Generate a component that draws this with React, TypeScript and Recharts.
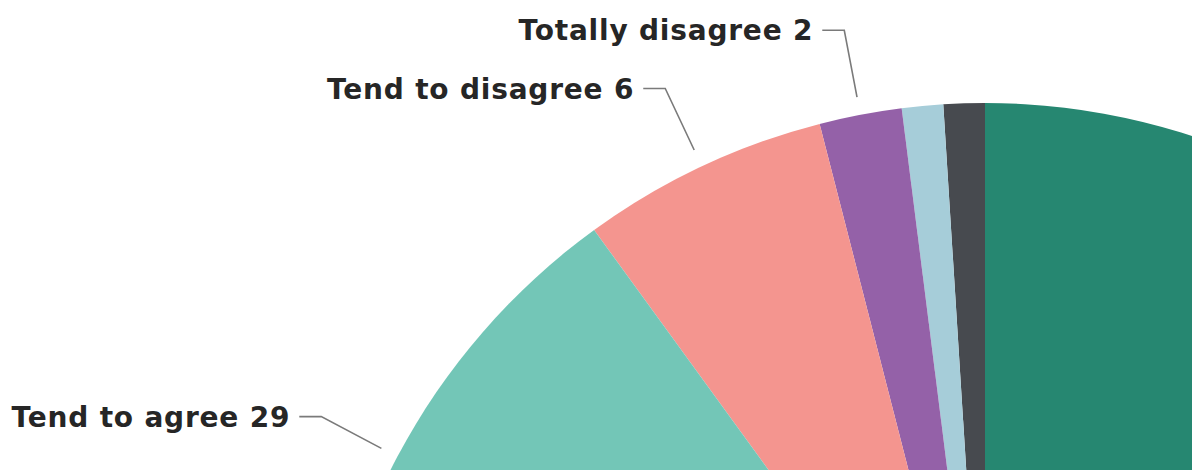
import React from "react";
import { PieChart, Pie, Cell } from "recharts";

// Categories in drawing order, counter-clockwise from 12 o'clock
const categories = [
  "Don't know",
  "Other",
  "Totally disagree",
  "Tend to disagree",
  "Tend to agree",
  "Totally agree",
];
const values = [1, 1, 2, 6, 29, 61];
const colors = ["#474a4f", "#a6cdd9", "#9461a8", "#f4958f", "#73c6b7", "#268771"];
// which slices carry a visible callout, and where along the slice it sits (0..1)
const showLabel = [false, false, true, true, true, false];
const labelFraction = [0.5, 0.5, 0.5, 0.5, 0.25, 0.5];

const data = categories.map((name, i) => ({ name, value: values[i] }));

const RAD = Math.PI / 180;
const FONT = 28;

const renderLabel = (props: any) => {
  const { cx, cy, outerRadius, startAngle, endAngle, midAngle, index } = props;
  if (!showLabel[index]) return null;
  const a =
    startAngle !== undefined && endAngle !== undefined
      ? startAngle + (endAngle - startAngle) * labelFraction[index]
      : midAngle;
  const cos = Math.cos(-a * RAD);
  const sin = Math.sin(-a * RAD);
  const r1 = outerRadius + 18;
  const r2 = outerRadius + 86;
  const x1 = cx + r1 * cos;
  const y1 = cy + r1 * sin;
  const x2 = cx + r2 * cos;
  const y2 = cy + r2 * sin;
  const x3 = x2 - 22;
  return (
    <g>
      <polyline
        points={`${x1},${y1} ${x2},${y2} ${x3},${y2}`}
        fill="none"
        stroke="#7a7a7a"
        strokeWidth={1.6}
      />
      <text
        x={x3 - 9}
        y={y2 + FONT * 0.36}
        textAnchor="end"
        fill="#262626"
        fontSize={FONT}
        fontWeight={700}
        letterSpacing={0.8}
        fontFamily="'DejaVu Sans', sans-serif"
      >
        {`${data[index].name} ${data[index].value}`}
      </text>
    </g>
  );
};

export default function App() {
  return (
    <div style={{ position: "absolute", left: 0, top: 0, width: 1192, height: 470, background: "#fff" }}>
      <PieChart width={1192} height={470} margin={{ top: 0, right: 0, bottom: 0, left: 0 }}>
        <Pie
          data={data}
          dataKey="value"
          nameKey="name"
          cx={985}
          cy={768}
          innerRadius={0}
          outerRadius={665}
          startAngle={90}
          endAngle={450}
          stroke="none"
          label={renderLabel}
          labelLine={false}
          isAnimationActive={false}
        >
          {data.map((d, i) => (
            <Cell key={d.name} fill={colors[i]} />
          ))}
        </Pie>
      </PieChart>
    </div>
  );
}
